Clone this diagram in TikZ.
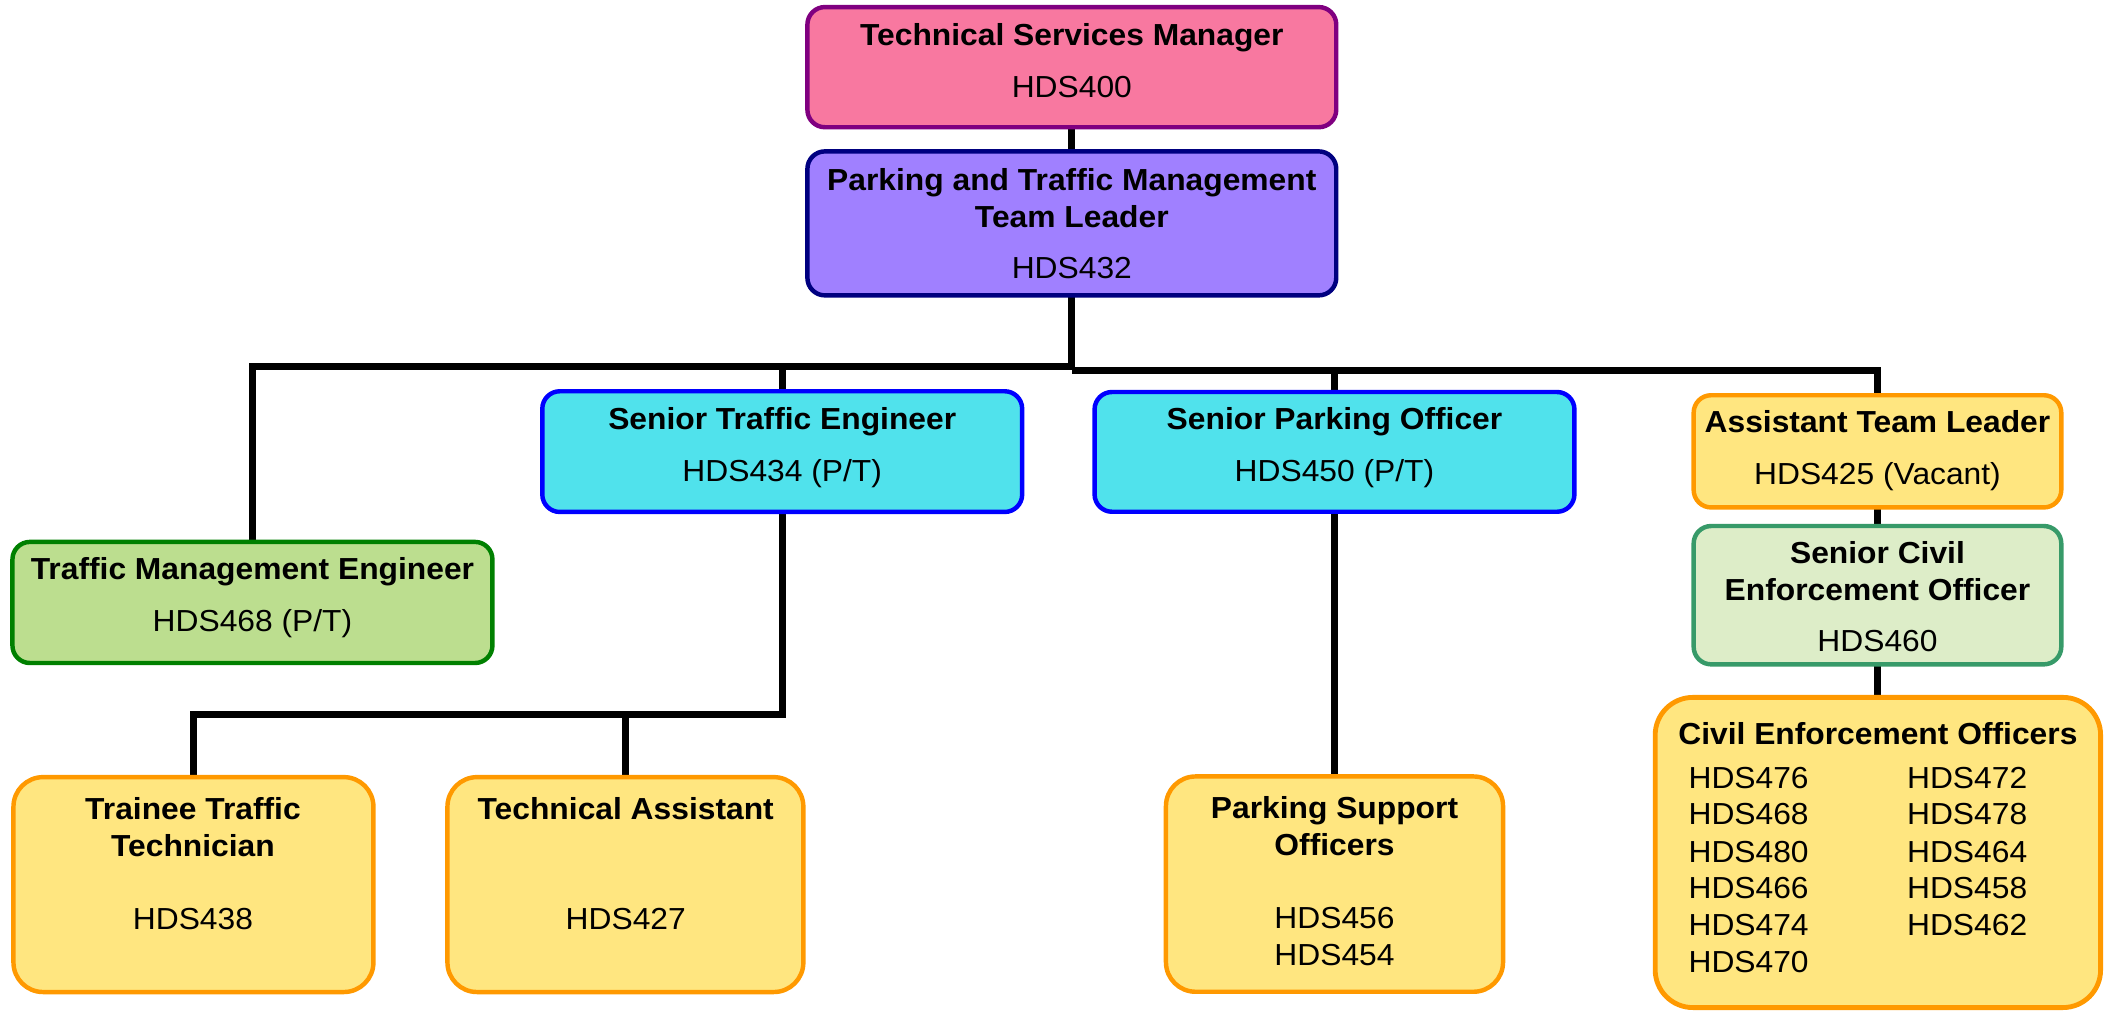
\documentclass[tikz,border=0pt]{standalone}
\usepackage{fontspec}
\setmainfont{Liberation Sans}[FakeStretch=1.045]
\usetikzlibrary{backgrounds}
\definecolor{tsmfill}{HTML}{F878A0}
\definecolor{tsmline}{HTML}{800080}
\definecolor{ptmfill}{HTML}{A080FF}
\definecolor{ptmline}{HTML}{000080}
\definecolor{tmefill}{HTML}{BCDE8F}
\definecolor{tmeline}{HTML}{008000}
\definecolor{cyanfill}{HTML}{50E2EC}
\definecolor{cyanline}{HTML}{0000FF}
\definecolor{yelfill}{HTML}{FFE680}
\definecolor{yelline}{HTML}{FF9900}
\definecolor{scfill}{HTML}{DDEDC8}
\definecolor{scline}{HTML}{379A69}
\newcommand\btxt[4]{\node[bt] (#1) at (#2,#3) {#4};}
\newcommand\rtxt[4]{\node[rt] (#1) at (#2,#3) {#4};}
\begin{document}
\begin{tikzpicture}[x=1bp,y=-1bp,
  box/.style={draw, line width=3.3bp, rounded corners=13bp, inner sep=0pt, outer sep=0pt},
  conn/.style={line width=5.2bp, draw=black, line join=miter},
  bt/.style={font=\fontsize{22.6bp}{27.4bp}\selectfont\bfseries, inner sep=0pt, anchor=base},
  rt/.style={font=\fontsize{22.6bp}{27.4bp}\selectfont, inner sep=0pt, anchor=base},
  lt/.style={font=\fontsize{22.6bp}{27.4bp}\selectfont, inner sep=0pt, anchor=base west},
]
\useasboundingbox (0,0) rectangle (1568,751.3);

% boxes
\node[box, fill=tsmfill, draw=tsmline, minimum width=393bp, minimum height=89.3bp] (tsm) at (796.5,49.9) {};
\node[box, fill=ptmfill, draw=ptmline, minimum width=393bp, minimum height=107bp] (ptm) at (796.5,166) {};
\node[box, fill=tmefill, draw=tmeline, minimum width=356.7bp, minimum height=90bp] (tme) at (187.6,447.7) {};
\node[box, fill=cyanfill, draw=cyanline, minimum width=356.6bp, minimum height=89.7bp] (ste) at (581.3,335.6) {};
\node[box, fill=cyanfill, draw=cyanline, minimum width=356.6bp, minimum height=89bp] (spo) at (991.7,335.8) {};
\node[box, fill=yelfill, draw=yelline, minimum width=273.2bp, minimum height=83.4bp] (atl) at (1395.2,335.4) {};
\node[box, fill=scfill, draw=scline, minimum width=273.2bp, minimum height=102.8bp] (scgo) at (1395.2,442.3) {};
\node[box, fill=yelfill, draw=yelline, line width=3.6bp, rounded corners=28bp, minimum width=331bp, minimum height=230.5bp] (ceo) at (1395.5,633.5) {};
\node[box, fill=yelfill, draw=yelline, rounded corners=22bp, minimum width=267.5bp, minimum height=159.7bp] (ttt) at (143.75,657.35) {};
\node[box, fill=yelfill, draw=yelline, rounded corners=22bp, minimum width=264.5bp, minimum height=159.7bp] (ta) at (464.75,657.35) {};
\node[box, fill=yelfill, draw=yelline, rounded corners=22bp, minimum width=250.5bp, minimum height=160bp] (pso) at (991.7,657) {};

% bus points
\coordinate (busL) at (0,272);
\coordinate (busR) at (0,275);
\coordinate (busB) at (0,530.6);

% connectors
\begin{scope}[on background layer]
\draw[conn] (tsm.south) -- (ptm.north);
\draw[conn] (ptm.south) -- (ptm.south |- busR);
\draw[conn] (tme.north) -- (tme.north |- busL) -- (ptm.south |- busL);
\draw[conn] (ste.north) -- (ste.north |- busL);
\draw[conn] (spo.north) -- (spo.north |- busR);
\draw[conn] (atl.north) -- (atl.north |- busR) -- (ptm.south |- busR);
\draw[conn] (atl.south) -- (atl.south |- scgo.north);
\draw[conn] (scgo.south) -- (scgo.south |- ceo.north);
\draw[conn] (ste.south) -- (ste.south |- busB) -- (ttt.north |- busB) -- (ttt.north);
\draw[conn] (ta.north) -- (ta.north |- busB);
\draw[conn] (spo.south) -- (spo.south |- pso.north);
\end{scope}

% texts
\btxt{tsm1}{796.5}{34}{Technical Services Manager}
\rtxt{tsm2}{796.5}{72.6}{HDS400}
\btxt{ptm1}{796.5}{141.7}{Parking and Traffic Management}
\btxt{ptm2}{796.5}{169.2}{Team Leader}
\rtxt{ptm3}{796.5}{206.8}{HDS432}
\btxt{tme1}{187.6}{431}{Traffic Management Engineer}
\rtxt{tme2}{187.6}{469.4}{HDS468 (P/T)}
\btxt{ste1}{581.3}{319.5}{Senior Traffic Engineer}
\rtxt{ste2}{581.3}{358}{HDS434 (P/T)}
\btxt{spo1}{991.7}{319.5}{Senior Parking Officer}
\rtxt{spo2}{991.7}{357.5}{HDS450 (P/T)}
\btxt{atl1}{1395.2}{321.5}{Assistant Team Leader}
\rtxt{atl2}{1395.2}{360}{HDS425 (Vacant)}
\btxt{sc1}{1395.2}{419}{Senior Civil}
\btxt{sc2}{1395.2}{446}{Enforcement Officer}
\rtxt{sc3}{1395.2}{484}{HDS460}
\btxt{ceo0}{1395.5}{553}{Civil Enforcement Officers}
\node[lt] (c1) at (1254.6,585.9) {HDS476};
\node[lt] (c2) at (1254.6,613) {HDS468};
\node[lt] (c3) at (1254.6,640.8) {HDS480};
\node[lt] (c4) at (1254.6,667.9) {HDS466};
\node[lt] (c5) at (1254.6,695.4) {HDS474};
\node[lt] (c6) at (1254.6,722.5) {HDS470};
\node[lt] (d1) at (1417,585.9) {HDS472};
\node[lt] (d2) at (1417,613) {HDS478};
\node[lt] (d3) at (1417,640.8) {HDS464};
\node[lt] (d4) at (1417,667.9) {HDS458};
\node[lt] (d5) at (1417,695.4) {HDS462};
\btxt{ttt1}{143.4}{609}{Trainee Traffic}
\btxt{ttt2}{143.4}{636.3}{Technician}
\rtxt{ttt3}{143.4}{690.5}{HDS438}
\btxt{ta1}{465}{609}{Technical Assistant}
\rtxt{ta2}{465}{690.5}{HDS427}
\btxt{pso1}{991.7}{608}{Parking Support}
\btxt{pso2}{991.7}{635.6}{Officers}
\rtxt{pso3}{991.7}{689.7}{HDS456}
\rtxt{pso4}{991.7}{717.5}{HDS454}
\end{tikzpicture}
\end{document}
